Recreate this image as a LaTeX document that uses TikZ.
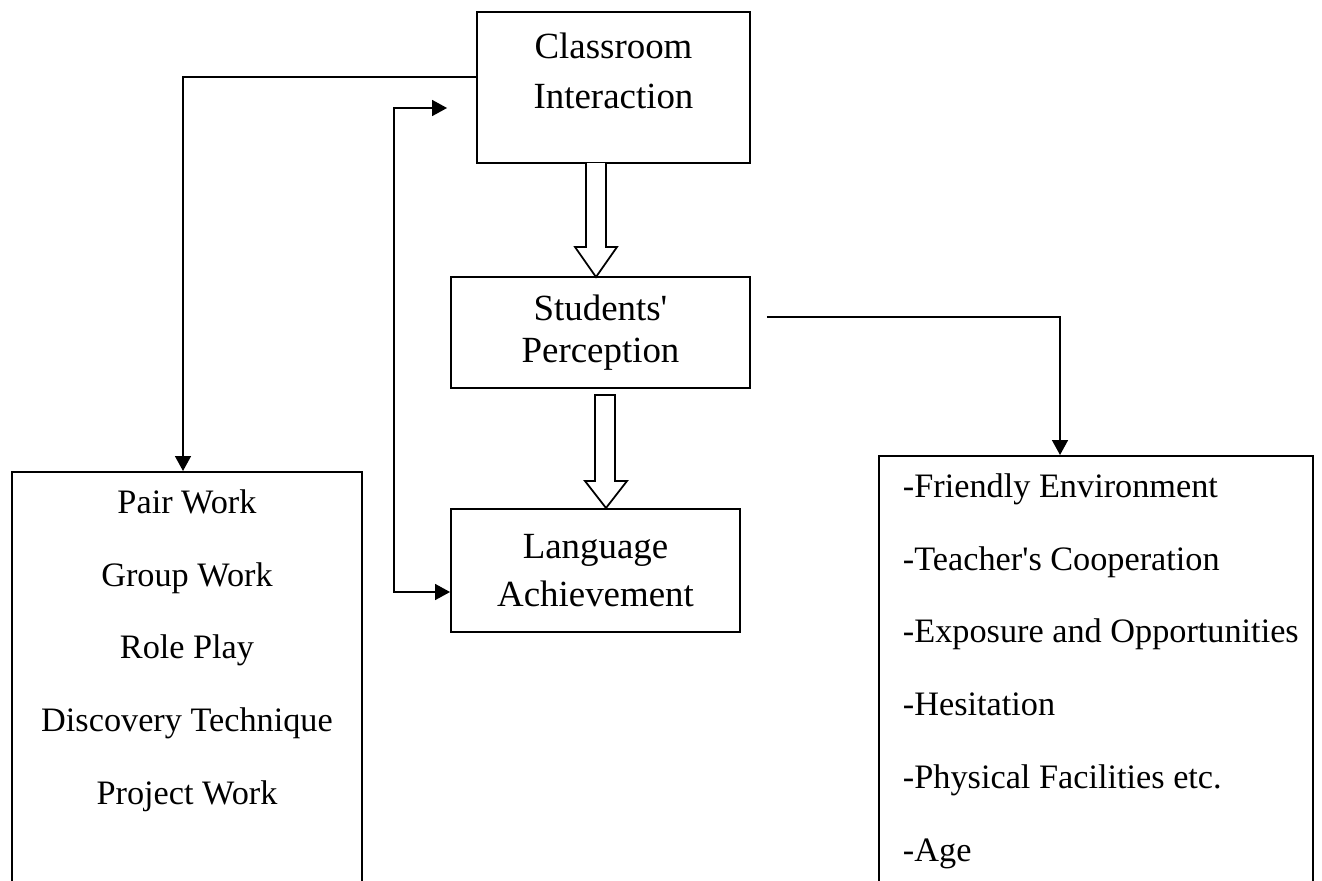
\documentclass[tikz,border=0pt]{standalone}
\usepackage{fontspec}
\setmainfont{Liberation Serif}
\usepackage{tikz}
\usetikzlibrary{matrix}
\usetikzlibrary{positioning}
\usetikzlibrary{arrows.meta}

\begin{document}
\begin{tikzpicture}[x=0.02cm,y=-0.02cm,line width=1.1pt,
  box/.style={draw,rectangle,inner sep=0pt,align=center,font=\fontsize{21}{26}\selectfont},
  conn/.style={-{Triangle[length=8.5pt,width=9pt]}},
  both/.style={{Triangle[length=8.5pt,width=9pt]}-{Triangle[length=8.5pt,width=9pt]}},
  hollow/.style={draw,fill=white,line width=1pt}]
\useasboundingbox (0,0) rectangle (1322,880);
\node[box,minimum width=5.46cm,minimum height=3.02cm] (cls) at (613.5,87.5) {};
\node[box,draw=none,below=0.42cm of cls.north,font=\fontsize{21}{28.5}\selectfont] (clstxt) {Classroom\\Interaction};
\node[box,minimum width=5.98cm,minimum height=2.22cm,font=\fontsize{21}{24}\selectfont] (stu) at (600.5,332.5) {Students\textquotesingle\\Perception};
\node[box,minimum width=5.78cm,minimum height=2.46cm,font=\fontsize{21}{27}\selectfont] (lang) at (595.5,570.5) {Language\\Achievement};
\node[box,minimum width=7cm,minimum height=9.6cm,anchor=north] (actbox) at (187,471) {};
\node[box,minimum width=8.68cm,minimum height=10cm,anchor=north] (facbox) at (1096,455) {};
\matrix (acts) [matrix of nodes,matrix anchor=acts-1-1.base,nodes={anchor=base,inner sep=0pt,font=\fontsize{19.5}{23}\selectfont},row sep={1.46cm,between origins}] at (187,513)
{
Pair Work\\
Group Work\\
Role Play\\
Discovery Technique\\
Project Work\\
};
\matrix (fac) [matrix of nodes,matrix anchor=fac-1-1.base west,nodes={anchor=base west,inner sep=0pt,font=\fontsize{19.5}{23}\selectfont},row sep={1.46cm,between origins}] at (902,497)
{
-Friendly Environment\\
-Teacher\textquotesingle s Cooperation\\
-Exposure and Opportunities\\
-Hesitation\\
-Physical Facilities etc.\\
-Age\\
};
\draw[hollow] (586,163) -- (586,247) -- (575,247) -- (596,277) -- (617,247) -- (606,247) -- (606,163);
\draw[hollow] (595,395) -- (595,481) -- (585,481) -- (606,508) -- (627,481) -- (615,481) -- (615,395) -- cycle;
\draw[conn] ([yshift=0.21cm]cls.west) -| ([xshift=-0.08cm]actbox.north);
\coordinate (fbtop) at (394,108);
\coordinate (fbbot) at (394,592);
\draw[both] ([xshift=-0.58cm]cls.west |- fbtop) -- (fbtop) -- (fbbot) -- (lang.west |- fbbot);
\draw[conn] ([shift={(0.32cm,0.31cm)}]stu.east) -| ([xshift=-0.72cm]facbox.north);
\end{tikzpicture}
\end{document}
